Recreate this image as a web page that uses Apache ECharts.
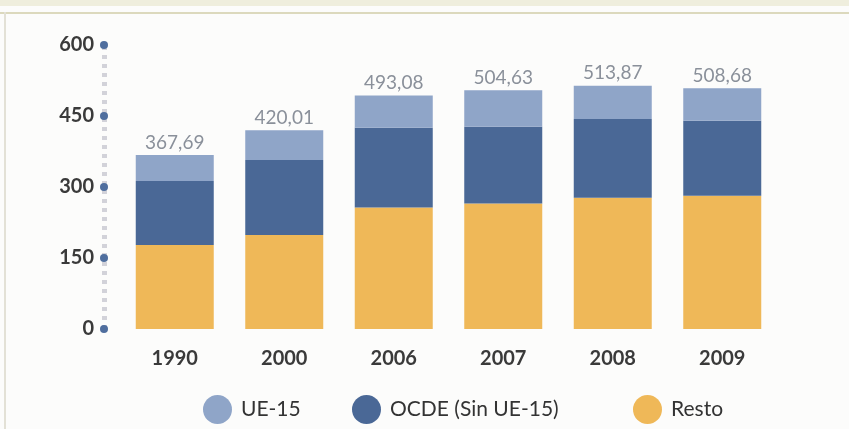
<!DOCTYPE html>
<html>
<head>
<meta charset="utf-8">
<script src="https://cdn.jsdelivr.net/npm/echarts@6/dist/echarts.min.js"></script>
<style>
  html, body { margin: 0; padding: 0; background: #fcfcfb; }
  #chart { width: 849px; height: 429px; }
</style>
</head>
<body>
<div id="chart"></div>
<script>
// Years on the category axis
const years = ['1990', '2000', '2006', '2007', '2008', '2009'];
// Stacked components (bottom to top)
const resto = [177.5, 198.6, 256.8, 265.0, 277.4, 281.6];
const ocde = [135.2, 158.4, 168.5, 162.4, 166.3, 158.4];
const ue15 = [54.99, 63.01, 67.78, 77.23, 70.17, 68.68];
// Value axis ticks
const yTicks = [0, 150, 300, 450, 600];

const seriesNames = ['UE-15', 'OCDE (Sin UE-15)', 'Resto'];
const legendLeft = [203, 352, 633];
const colors = { ue: '#8fa5c8', ocde: '#4a6896', resto: '#efb858' };

function total(i) {
  return resto[i] + ocde[i] + ue15[i];
}
function fmt(v) {
  return v.toFixed(2).replace('.', ',');
}

const chart = echarts.init(document.getElementById('chart'), null, { renderer: 'canvas' });

// One legend block per entry so each can sit at its own spot
const legends = seriesNames.map((name, i) => ({
  data: [name],
  bottom: 0,
  left: legendLeft[i],
  padding: [5, 0, 5, 0],
  icon: 'circle',
  itemWidth: 29,
  itemHeight: 29,
  textStyle: { fontFamily: 'Lato', fontSize: 21, color: '#333', padding: [0, 0, 0, 4] }
}));

chart.setOption({
  backgroundColor: '#fcfcfb',
  animation: false,
  graphic: [
    { type: 'rect', shape: { x: 0, y: 0, width: 849, height: 6 }, style: { fill: '#efeedd' }, silent: true },
    { type: 'rect', shape: { x: 0, y: 12, width: 849, height: 2 }, style: { fill: '#dcd9bd' }, silent: true },
    { type: 'rect', shape: { x: 4, y: 12, width: 2, height: 417 }, style: { fill: '#e3e1d6' }, silent: true }
  ],
  grid: { left: 120, right: 72, top: 45, bottom: 100, containLabel: false },
  legend: legends,
  xAxis: {
    type: 'category',
    data: years,
    axisLine: { show: false },
    axisTick: { show: false },
    axisLabel: { fontFamily: 'Lato', fontWeight: 'bold', fontSize: 20, color: '#3a3a3a', margin: 20 }
  },
  yAxis: {
    type: 'value',
    min: yTicks[0],
    max: yTicks[yTicks.length - 1],
    interval: yTicks[1] - yTicks[0],
    offset: 16,
    splitLine: { show: false },
    axisTick: { show: false },
    axisLine: {
      show: true,
      lineStyle: { color: '#d2d2d9', width: 5, type: [4, 5], cap: 'butt' }
    },
    axisLabel: {
      margin: -4,
      formatter: v => '{v|' + v + '}{d|}',
      rich: {
        v: { fontFamily: 'Lato', fontWeight: 'bold', fontSize: 20, color: '#3a3a3a', padding: [0, 6, 0, 0] },
        d: { width: 8, height: 8, borderRadius: 4, backgroundColor: '#4f6e9e' }
      }
    }
  },
  series: [
    {
      name: 'Resto', type: 'bar', stack: 'total', data: resto, barWidth: 78,
      itemStyle: { color: colors.resto }
    },
    {
      name: 'OCDE (Sin UE-15)', type: 'bar', stack: 'total', data: ocde, barWidth: 78,
      itemStyle: { color: colors.ocde }
    },
    {
      name: 'UE-15', type: 'bar', stack: 'total', data: ue15, barWidth: 78,
      itemStyle: { color: colors.ue },
      label: {
        show: true,
        position: 'top',
        distance: 3,
        formatter: p => fmt(total(p.dataIndex)),
        fontFamily: 'Lato',
        fontSize: 19,
        color: '#8a909a'
      }
    }
  ]
});
</script>
</body>
</html>
